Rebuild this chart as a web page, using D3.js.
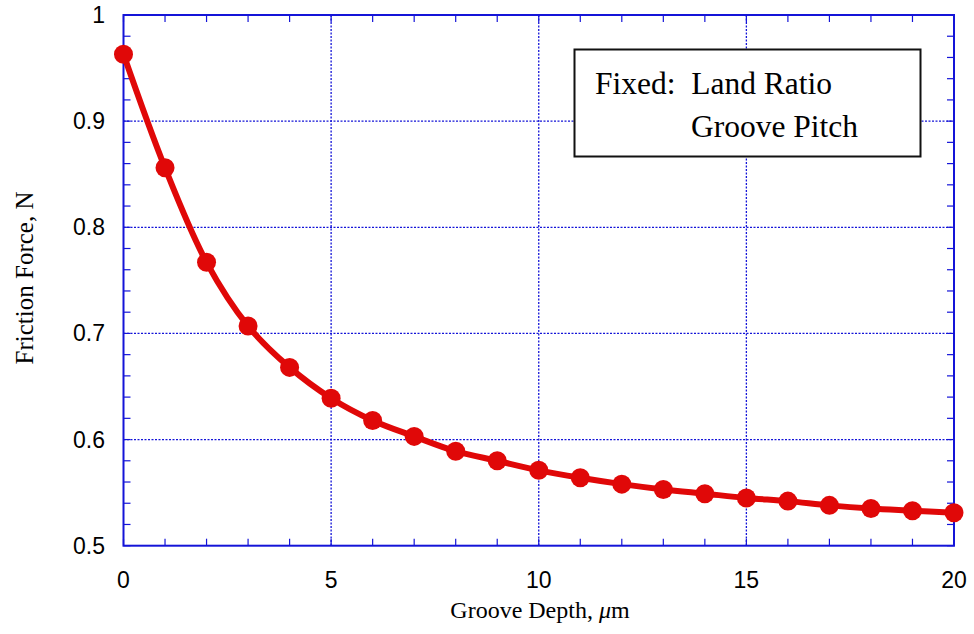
<!DOCTYPE html>
<html>
<head>
<meta charset="utf-8">
<script src="https://cdn.jsdelivr.net/npm/d3@7"></script>
<style>
  html, body { margin: 0; padding: 0; background: #fff; }
  svg { display: block; }
</style>
</head>
<body>
<svg id="chart" width="974" height="634"></svg>
<script>
// Friction force vs. groove depth
const grooveDepth = [0, 1, 2, 3, 4, 5, 6, 7, 8, 9, 10, 11, 12, 13, 14, 15, 16, 17, 18, 19, 20];
const frictionForce = [0.963, 0.856, 0.767, 0.707, 0.668, 0.639, 0.618, 0.603, 0.589, 0.580,
                       0.571, 0.564, 0.558, 0.553, 0.549, 0.545, 0.542, 0.538, 0.535, 0.533, 0.531];
const xTicks = [0, 5, 10, 15, 20];
const yTicks = [0.5, 0.6, 0.7, 0.8, 0.9, 1];
const yTickLabels = ["0.5", "0.6", "0.7", "0.8", "0.9", "1"];
const legendLines = ["Fixed:  Land Ratio", "Groove Pitch"];

(function () {
  const svg = d3.select("#chart");
  const pLeft = 123.5, pRight = 954, pTop = 15, pBottom = 545.7;
  const blue = "#1414d8";

  const x = d3.scaleLinear().domain([0, 20]).range([pLeft, pRight]);
  const y = d3.scaleLinear().domain([0.5, 1]).range([pBottom, pTop]);

  // grid
  const grid = svg.append("g");
  grid.append("g").selectAll("line").data(xTicks.slice(1, -1)).join("line")
    .attr("x1", d => x(d)).attr("x2", d => x(d)).attr("y1", pTop).attr("y2", pBottom)
    .attr("stroke", blue).attr("stroke-width", 1.3).attr("stroke-dasharray", "2,1.5");
  grid.append("g").selectAll("line").data(yTicks.slice(1, -1)).join("line")
    .attr("x1", pLeft).attr("x2", pRight).attr("y1", d => y(d)).attr("y2", d => y(d))
    .attr("stroke", blue).attr("stroke-width", 1.3).attr("stroke-dasharray", "2,1.5");

  // minor ticks (inward, on all four sides)
  const xMinor = d3.range(0, 21, 1);
  const yMinor = d3.range(0.5, 1.0001, 0.02);
  const tickLen = 7;
  const ticks = svg.append("g").attr("stroke", blue).attr("stroke-width", 1.2);
  ticks.append("g").selectAll("line").data(xMinor).join("line")
    .attr("x1", d => x(d)).attr("x2", d => x(d)).attr("y1", pBottom).attr("y2", pBottom - tickLen);
  ticks.append("g").selectAll("line").data(xMinor).join("line")
    .attr("x1", d => x(d)).attr("x2", d => x(d)).attr("y1", pTop).attr("y2", pTop + tickLen);
  ticks.append("g").selectAll("line").data(yMinor).join("line")
    .attr("x1", pLeft).attr("x2", pLeft + tickLen).attr("y1", d => y(d)).attr("y2", d => y(d));
  ticks.append("g").selectAll("line").data(yMinor).join("line")
    .attr("x1", pRight).attr("x2", pRight - tickLen).attr("y1", d => y(d)).attr("y2", d => y(d));

  // frame
  svg.append("rect").attr("x", pLeft).attr("y", pTop).attr("width", pRight - pLeft).attr("height", pBottom - pTop)
    .attr("fill", "none").attr("stroke", blue).attr("stroke-width", 2);

  // tick labels
  const tickFont = "Liberation Sans, Arial, Helvetica, sans-serif";
  svg.append("g").selectAll("text").data(xTicks).join("text")
    .attr("x", d => x(d)).attr("y", 588)
    .attr("text-anchor", "middle").attr("font-family", tickFont).attr("font-size", 23)
    .attr("fill", "#000").text(d => d);
  svg.append("g").selectAll("text").data(yTicks).join("text")
    .attr("x", 105).attr("y", d => y(d) + 8)
    .attr("text-anchor", "end").attr("font-family", tickFont).attr("font-size", 23)
    .attr("fill", "#000").text((d, i) => yTickLabels[i]);

  // axis titles
  const serif = "Liberation Serif, Times New Roman, Times, serif";
  const xt = svg.append("text").attr("x", 540).attr("y", 618).attr("text-anchor", "middle")
    .attr("font-family", serif).attr("font-size", 24).attr("fill", "#000");
  xt.append("tspan").text("Groove Depth, ");
  xt.append("tspan").attr("font-style", "italic").text("\u03bc");
  xt.append("tspan").text("m");
  svg.append("text").attr("transform", "translate(33,278) rotate(-90)").attr("text-anchor", "middle")
    .attr("font-family", serif).attr("font-size", 25).attr("fill", "#000").text("Friction Force, N");

  // data curve and markers
  const pts = grooveDepth.map((d, i) => [d, frictionForce[i]]);
  const line = d3.line().x(d => x(d[0])).y(d => y(d[1])).curve(d3.curveCatmullRom.alpha(0.5));
  svg.append("path").datum(pts).attr("d", line).attr("fill", "none")
    .attr("stroke", "#e00808").attr("stroke-width", 6);
  svg.append("g").selectAll("circle").data(pts).join("circle")
    .attr("cx", d => x(d[0])).attr("cy", d => y(d[1])).attr("r", 9.5).attr("fill", "#e00808");

  // legend box
  svg.append("rect").attr("x", 574.5).attr("y", 49.5).attr("width", 346).attr("height", 107)
    .attr("fill", "#fff").attr("stroke", "#111").attr("stroke-width", 2);
  svg.append("text").attr("x", 595).attr("y", 94).attr("font-family", serif).attr("font-size", 31.5)
    .attr("fill", "#000").style("white-space", "pre").text(legendLines[0]);
  svg.append("text").attr("x", 691).attr("y", 137).attr("font-family", serif).attr("font-size", 31.5)
    .attr("fill", "#000").text(legendLines[1]);
})();
</script>
</body>
</html>
